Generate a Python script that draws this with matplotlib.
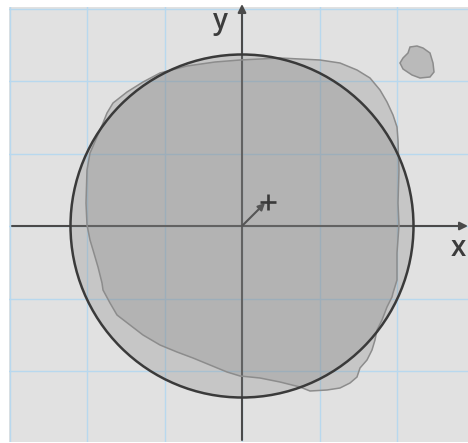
import matplotlib
matplotlib.use('Agg')
import matplotlib.pyplot as plt
import numpy as np
from matplotlib.patches import Circle, Polygon

# units: screen pixels measured from the origin of the axes
grid_dx = 77.5
grid_dy = 72.5
circle_r = 171.5

blob_x = [-2, 38, 78, 98, 115, 128, 138, 145, 151, 155, 156, 157, 156, 157, 155,
          155, 151, 150, 145, 140, 135, 133, 130, 125, 118, 115, 108, 98, 85, 68,
          58, 38, 18, -2, -15, -32, -49, -65, -82, -99, -112, -125, -132, -139,
          -140, -144, -149, -152, -155, -156, -155, -152, -145, -139, -135, -129,
          -115, -99, -82, -55, -27]
blob_y = [166, 168, 166, 163, 156, 148, 136, 124, 111, 99, 86, 56, 23, 1, -27,
          -54, -67, -71, -81, -94, -104, -114, -124, -134, -142, -151, -157, -162,
          -164, -165, -161, -156, -152, -150, -146, -139, -132, -126, -119, -109,
          -99, -89, -77, -64, -57, -41, -24, -14, 1, 23, 56, 73, 89, 103, 113, 123,
          134, 144, 153, 160, 164]

small_x = [168, 175, 181, 188, 191, 192, 188, 178, 170, 161, 158, 161, 166]
small_y = [179, 180, 178, 173, 163, 154, 149, 148, 151, 157, 163, 168, 173]

vec = (23, 23)
centroid = (26, 24)

fig = plt.figure(figsize=(4.68, 4.43), dpi=100)
ax = fig.add_axes([9 / 468, 1 / 443, 459 / 468, 435 / 443])
ax.set_facecolor('#e1e1e1')
for s in ax.spines.values():
    s.set_visible(False)
ax.set_xticks([])
ax.set_yticks([])
ax.set_xlim(-233, 226)
ax.set_ylim(-216, 219)

# light blue grid
for k in range(-3, 3):
    ax.axvline(k * grid_dx, color='#b8d8ee', lw=1.0, zorder=1)
for k in range(-2, 4):
    ax.axhline(k * grid_dy, color='#b8d8ee', lw=1.0, zorder=1)

# coordinate axes
ax_col = '#4a4a4a'
a1 = ax.annotate('', xy=(226, 0), xytext=(-230, 0),
                 arrowprops=dict(arrowstyle='-|>', color=ax_col, lw=1.5,
                                 mutation_scale=12, shrinkA=0, shrinkB=0),
                 zorder=2, annotation_clip=False)
a2 = ax.annotate('', xy=(0, 222), xytext=(0, -214),
                 arrowprops=dict(arrowstyle='-|>', color=ax_col, lw=1.5,
                                 mutation_scale=12, shrinkA=0, shrinkB=0),
                 zorder=2, annotation_clip=False)
a1.arrow_patch.set_clip_on(False)
a2.arrow_patch.set_clip_on(False)

# fills
ax.add_patch(Circle((0, 0), circle_r, facecolor='#808080', alpha=0.27,
                    edgecolor='none', zorder=3))
ax.add_patch(Polygon(np.column_stack([blob_x, blob_y]), closed=True,
                     facecolor='#808080', alpha=0.27, edgecolor='none', zorder=3))
ax.add_patch(Polygon(np.column_stack([blob_x, blob_y]), closed=True,
                     facecolor='none', edgecolor='#8c8c8c', lw=1.1, zorder=4))
ax.add_patch(Polygon(np.column_stack([small_x, small_y]), closed=True,
                     facecolor='#808080', alpha=0.4, edgecolor='none', zorder=3))
ax.add_patch(Polygon(np.column_stack([small_x, small_y]), closed=True,
                     facecolor='none', edgecolor='#8c8c8c', lw=1.1, zorder=4))
ax.add_patch(Circle((0, 0), circle_r, facecolor='none', edgecolor='#3a3a3a',
                    lw=1.8, zorder=5))

# centroid vector
ax.annotate('', xy=vec, xytext=(0, 0),
            arrowprops=dict(arrowstyle='-|>', color='#555555', lw=1.5,
                            mutation_scale=10, shrinkA=0, shrinkB=0), zorder=6)
ax.plot([centroid[0]], [centroid[1]], marker='+', ms=11, mew=1.9,
        color='#3a3a3a', zorder=7)

ax.text(-22, 205, 'y', fontsize=20, color='#3c3c3c', ha='center', va='center',
        family='Open Sans', fontweight='semibold')
ax.text(216, -22, 'x', fontsize=20, color='#3c3c3c', ha='center', va='center',
        family='Open Sans', fontweight='semibold')

fig.savefig('out.png', dpi=100, facecolor='white')
